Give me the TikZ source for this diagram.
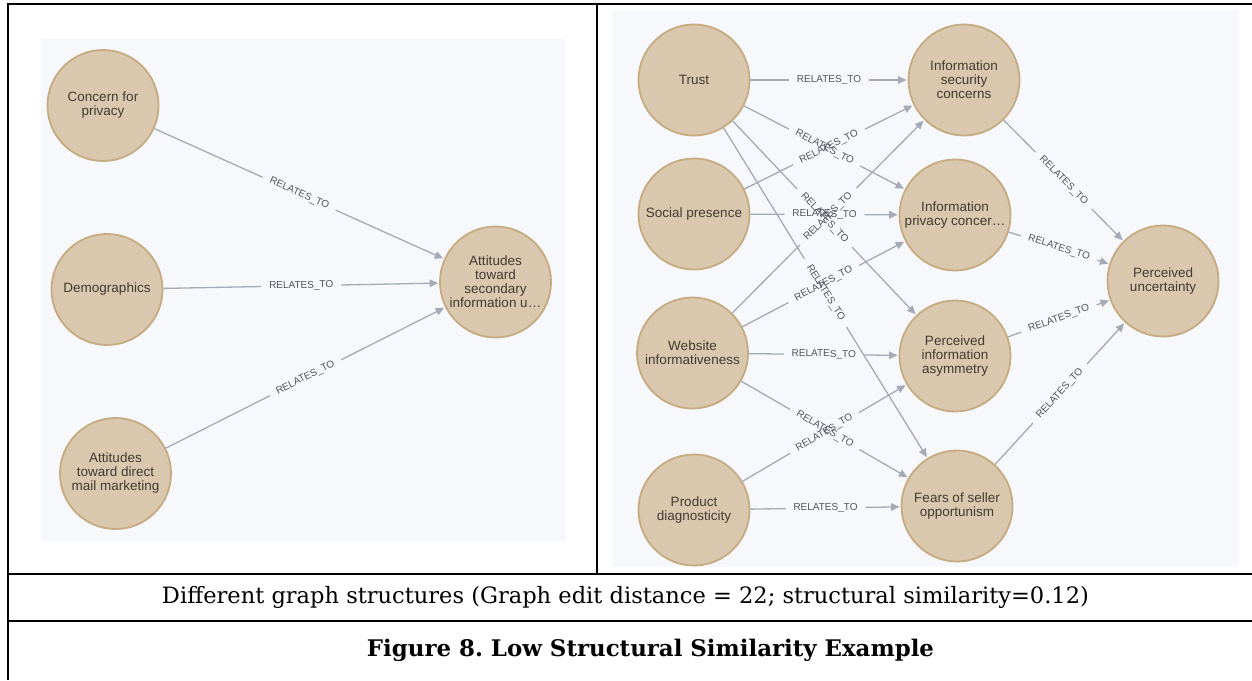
\documentclass[tikz,border=0pt]{standalone}
\usepackage{fontspec}
\usepackage{graphicx}
\setmainfont{DejaVu Serif}[Numbers=OldStyle]
\newfontfamily\nodefont{Liberation Sans}
\usetikzlibrary{calc,arrows.meta}
\frenchspacing

\definecolor{nodefill}{HTML}{D9C8AE}
\definecolor{nodeline}{HTML}{C6AB80}
\definecolor{nodetext}{HTML}{433A31}
\definecolor{edgecol}{HTML}{A5ABB6}
\definecolor{lblcol}{HTML}{50545B}
\definecolor{panelbg}{HTML}{F6F8FB}

\tikzset{
  concept/.style={circle, fill=nodefill, draw=nodeline, line width=1.8pt,
    minimum size=111pt, inner sep=0pt, align=center, text=nodetext,
    font=\nodefont\fontsize{13.5}{14}\selectfont},
  edge/.style={draw=edgecol, line width=1.3pt},
  tip/.style={-{Triangle[length=8.5pt,width=7.5pt]}, shorten >=1pt},
  rellabel/.style={font=\nodefont\fontsize{10}{12}\selectfont, text=lblcol,
    sloped, inner sep=0pt},
  rule/.style={line width=2pt},
  panel/.style={fill=panelbg},
}

% a RELATES_TO connector: line broken around its label, arrow at the target
\newcommand\relates[2]{%
  \path (#1) -- (#2) coordinate[pos=.5] (mid);
  \draw[edge] (#1) -- ($(mid)!40pt!(#1)$);
  \draw[edge,tip] ($(mid)!40pt!(#2)$) -- (#2);
  \path (#1) -- (#2) node[rellabel,midway] {RELATES\_TO};
}

\begin{document}
\begin{tikzpicture}[x=1pt,y=-1pt]
\useasboundingbox (0,0) rectangle (1252,680);

% panel backgrounds
\fill[panel] (40.6,38.5) rectangle (566,540.6);
\fill[panel] (612,10) rectangle (1239,567);

% left graph
\node[concept] (concern) at (103,105.5) {Concern for\\privacy};
\node[concept] (demo) at (107,289.5) {Demographics};
\node[concept] (mail) at (115.5,473.5) {Attitudes\\toward direct\\mail marketing};
\node[concept] (second) at (495.5,282) {Attitudes\\toward\\secondary\\information u…};

\relates{concern}{second}
\relates{demo}{second}
\relates{mail}{second}

% right graph
\node[concept] (trust) at (694,80) {Trust};
\node[concept] (social) at (694,214) {Social presence};
\node[concept] (website) at (692.5,353) {Website\\informativeness};
\node[concept] (product) at (694,510) {Product\\diagnosticity};
\node[concept] (infosec) at (964,80) {Information\\security\\concerns};
\node[concept] (infopriv) at (955,215) {Information\\privacy concer…};
\node[concept] (asym) at (955,356) {Perceived\\information\\asymmetry};
\node[concept] (fears) at (957,506) {Fears of seller\\opportunism};
\node[concept] (uncert) at (1163,281) {Perceived\\uncertainty};

\relates{trust}{infosec}
\relates{trust}{infopriv}
\relates{trust}{asym}
\relates{trust}{fears}
\relates{social}{infosec}
\relates{social}{infopriv}
\relates{website}{infosec}
\relates{website}{infopriv}
\relates{website}{asym}
\relates{website}{fears}
\relates{product}{asym}
\relates{product}{fears}
\relates{infosec}{uncert}
\relates{infopriv}{uncert}
\relates{asym}{uncert}
\relates{fears}{uncert}

% table rules
\draw[rule] (6.7,4) -- (1252,4);
\draw[rule] (6.7,574) -- (1252,574);
\draw[rule] (6.7,621) -- (1252,621);
\draw[rule] (7.7,3) -- (7.7,680);
\draw[line width=1.6pt] (596.7,4) -- (596.7,574);

% captions
\node (cap) at (625.5,597.5)
  {\resizebox{927pt}{!}{Different graph structures (Graph edit distance = 22; structural similarity=0.12)}};
\node (title) at (650.5,650.5)
  {\resizebox{567pt}{!}{\bfseries Figure 8. Low Structural Similarity Example}};
\end{tikzpicture}
\end{document}
